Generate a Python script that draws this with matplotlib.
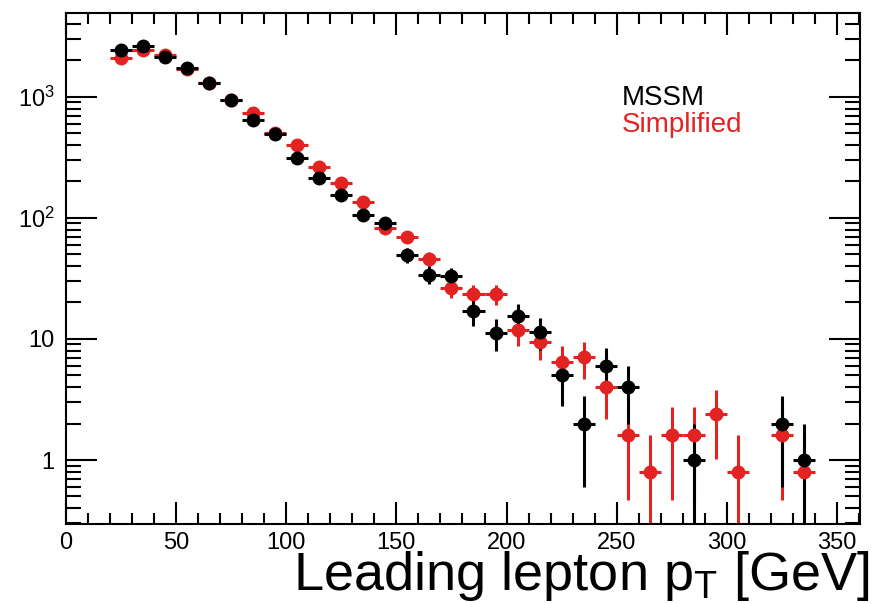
import numpy as np
import matplotlib
matplotlib.use("Agg")
import matplotlib.pyplot as plt
from matplotlib.ticker import FixedLocator, LogLocator, NullFormatter

plt.rcParams['font.family'] = ['Liberation Sans', 'DejaVu Sans']
plt.rcParams['mathtext.fontset'] = 'custom'
plt.rcParams['mathtext.rm'] = 'Liberation Sans'
plt.rcParams['mathtext.it'] = 'Liberation Sans'

# bin centres (GeV), bin half width for horizontal bars
pt_bins = [25, 35, 45, 55, 65, 75, 85, 95, 105, 115, 125, 135, 145, 155, 165,
           175, 185, 195, 205, 215, 225, 235, 245, 255, 265, 275, 285, 295,
           305, 315, 325, 335]
half_width = 5

nan = float('nan')
mssm = [2430, 2620, 2130, 1720, 1300, 950, 642, 495, 315, 213, 155, 105, 91,
        49, 34, 33, 17, 11.2, 15.5, 11.5, 5, 2, 6, 4, nan, nan, 1, nan, nan,
        nan, 2, 1]
mssm_err = [49, 51, 46, 41, 36, 31, 25, 22, 18, 15, 12, 10, 9.5, 7, 5.8, 5.7,
            4.1, 3.3, 3.9, 3.4, 2.2, 1.4, 2.4, 2.0, nan, nan, 1.0, nan, nan,
            nan, 1.4, 1.0]

simplified = [2090, 2450, 2200, 1700, 1290, 940, 730, 500, 400, 264, 194, 136,
              82, 70, 46, 26.5, 23.5, 23.5, 11.9, 9.4, 6.5, 7.1, 4.0, 1.6, 0.8,
              1.6, 1.6, 2.4, 0.8, nan, 1.6, 0.8]
simplified_err = [41, 44, 42, 37, 32, 27, 24, 20, 18, 14.5, 12.5, 10.4, 8.1,
                  7.5, 6.1, 4.6, 4.3, 4.3, 3.1, 2.7, 2.3, 2.4, 1.8, 1.13, 0.8,
                  1.13, 1.13, 1.39, 0.8, nan, 1.13, 0.8]

red = '#e32222'

fig = plt.figure(figsize=(8.72, 6.03), dpi=100)
ax = fig.add_axes([0.0755, 0.131, 0.911, 0.847])

ax.errorbar(pt_bins, simplified, yerr=simplified_err, xerr=half_width,
            fmt='o', color=red, ms=9, elinewidth=2.2, capsize=0)
ax.errorbar(pt_bins, mssm, yerr=mssm_err, xerr=half_width,
            fmt='o', color='black', ms=9, elinewidth=2.2, capsize=0)

ax.set_yscale('log')
ax.set_xlim(0, 360.5)
ax.set_ylim(0.296, 4900)

# ROOT-like ticks on all four sides, pointing in
ax.xaxis.set_major_locator(FixedLocator([0, 50, 100, 150, 200, 250, 300, 350]))
ax.xaxis.set_minor_locator(FixedLocator(np.arange(0, 361, 10)))
ax.yaxis.set_major_locator(FixedLocator([1, 10, 100, 1000]))
ax.yaxis.set_minor_locator(LogLocator(base=10, subs=np.arange(2, 10)))
ax.yaxis.set_minor_formatter(NullFormatter())
ax.set_yticklabels(['1', '10', '10$^{2}$', '10$^{3}$'])
ax.tick_params(which='both', direction='in', top=True, right=True,
               width=1.5, labelsize=17)
ax.tick_params(axis='x', which='major', length=16, pad=6)
ax.tick_params(axis='x', which='minor', length=8)
ax.tick_params(axis='y', which='major', length=22, pad=8)
ax.tick_params(axis='y', which='minor', length=11)
for s in ax.spines.values():
    s.set_linewidth(1.5)

fig.text(0.997, 0.022, r'Leading lepton p$_{\mathrm{T}}$ [GeV]', ha='right',
         va='baseline', fontsize=39)

fig.text(0.713, 0.826, 'MSSM', fontsize=20, color='black')
fig.text(0.713, 0.781, 'Simplified', fontsize=20, color=red)

fig.savefig('out.png', dpi=100)
